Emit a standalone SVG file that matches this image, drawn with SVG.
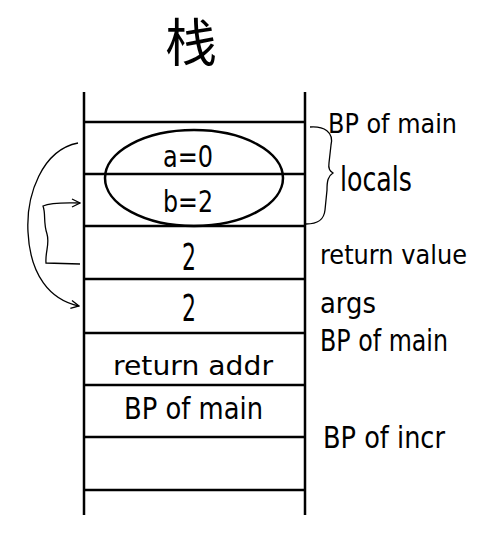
<svg xmlns="http://www.w3.org/2000/svg" width="491" height="538" viewBox="0 0 491 538">
<style>
.t{font-family:"DejaVu Sans","Noto Sans",sans-serif;fill:#000}
.ln{stroke:#000;stroke-width:2.5;fill:none}
.cn{stroke:#000;stroke-width:1.3;fill:none}
</style>
<defs>
<marker id="ah" viewBox="0 0 10 10" refX="9" refY="5" markerWidth="10" markerHeight="10" markerUnits="userSpaceOnUse" orient="auto">
<path d="M1,1 L9,5 L1,9" fill="none" stroke="#000" stroke-width="1.3"/>
</marker>
</defs>
<rect width="491" height="538" fill="#fff"/>
<g id="title"><text x="191" y="62" text-anchor="middle" font-family="Noto Sans CJK SC, sans-serif" font-size="52" fill="#000">栈</text></g>
<g id="stack">
<line class="ln" x1="84" y1="92" x2="84" y2="515"/>
<line class="ln" x1="305" y1="92" x2="305" y2="515"/>
<line class="ln" x1="84" y1="122" x2="305" y2="122"/>
<line class="ln" x1="84" y1="174" x2="305" y2="174"/>
<line class="ln" x1="84" y1="226" x2="305" y2="226"/>
<line class="ln" x1="84" y1="279" x2="305" y2="279"/>
<line class="ln" x1="84" y1="333" x2="305" y2="333"/>
<line class="ln" x1="84" y1="385" x2="305" y2="385"/>
<line class="ln" x1="84" y1="437" x2="305" y2="437"/>
<line class="ln" x1="84" y1="490" x2="305" y2="490"/>
</g>
<g id="locals-ellipse"><ellipse class="ln" cx="194" cy="178" rx="89" ry="48"/></g>
<g id="cell-a"><text class="t" x="163" y="167" font-size="30" textLength="50" lengthAdjust="spacingAndGlyphs">a=0</text></g>
<g id="cell-b"><text class="t" x="163" y="212" font-size="30" textLength="50" lengthAdjust="spacingAndGlyphs">b=2</text></g>
<g id="cell-ret"><text class="t" x="182" y="270" font-size="37" textLength="14" lengthAdjust="spacingAndGlyphs">2</text></g>
<g id="cell-arg"><text class="t" x="182" y="321" font-size="37" textLength="14" lengthAdjust="spacingAndGlyphs">2</text></g>
<g id="cell-retaddr"><text class="t" x="113" y="375" font-size="27" textLength="160" lengthAdjust="spacingAndGlyphs">return addr</text></g>
<g id="cell-bpmain"><text class="t" x="124" y="419" font-size="31" textLength="139" lengthAdjust="spacingAndGlyphs">BP of main</text></g>
<g id="labels">
<text class="t" x="328" y="133" font-size="27" textLength="129" lengthAdjust="spacingAndGlyphs">BP of main</text>
<text class="t" x="340" y="191" font-size="33" textLength="72" lengthAdjust="spacingAndGlyphs">locals</text>
<text class="t" x="320" y="264" font-size="27" textLength="147" lengthAdjust="spacingAndGlyphs">return value</text>
<text class="t" x="320" y="313" font-size="28" textLength="56" lengthAdjust="spacingAndGlyphs">args</text>
<text class="t" x="320" y="351" font-size="30" textLength="128" lengthAdjust="spacingAndGlyphs">BP of main</text>
<text class="t" x="323" y="448" font-size="31" textLength="122" lengthAdjust="spacingAndGlyphs">BP of incr</text>
</g>
<g id="connectors">
<path class="cn" d="M310,127 C324,126 334,132 331,145 L329,163 C328,169 330,171 333,173 C328,176 327,181 327,190 L325,210 C324,220 318,224 306,224"/>
<path class="cn" d="M78,143 C42,150 26,195 28,232 C30,275 50,300 79,306" marker-end="url(#ah)"/>
<path class="cn" d="M80,264 L46,263 C45,252 50,244 47,234 C43,222 46,214 43,206 C52,202 66,203 80,203" marker-end="url(#ah)"/>
</g>
</svg>
